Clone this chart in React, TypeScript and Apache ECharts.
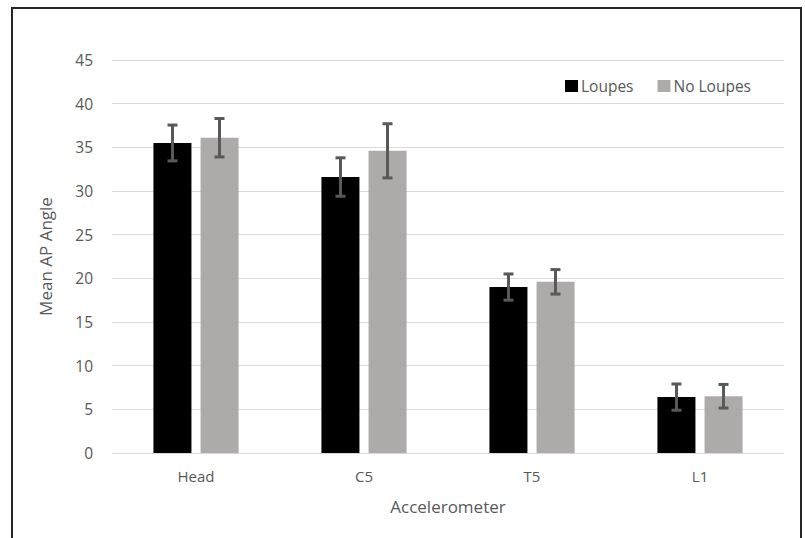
import React, { useEffect, useRef } from "react";
import * as echarts from "echarts";

const categories = ["Head", "C5", "T5", "L1"];
const loupesValues = [35.5, 31.6, 19.0, 6.4];
const loupesErrors = [2.05, 2.2, 1.5, 1.5];
const noLoupesValues = [36.1, 34.6, 19.6, 6.5];
const noLoupesErrors = [2.2, 3.1, 1.4, 1.35];
const seriesNames = ["Loupes", "No Loupes"];

const FONT = "'Open Sans', 'Noto Sans', sans-serif";
const BAR_W = 38;
const OFFSET = 23.5;

function errorSeries(values: number[], errs: number[], offset: number) {
  return {
    type: "custom",
    silent: true,
    z: 10,
    data: values.map((v, i) => [i, v - errs[i], v + errs[i]]),
    renderItem: (params: any, api: any) => {
      const idx = api.value(0);
      const lo = api.coord([idx, api.value(1)]);
      const hi = api.coord([idx, api.value(2)]);
      const x = lo[0] + offset;
      const cap = 5;
      const style = { stroke: "#595959", lineWidth: 3 };
      return {
        type: "group",
        children: [
          { type: "line", shape: { x1: x, y1: lo[1], x2: x, y2: hi[1] }, style },
          { type: "line", shape: { x1: x - cap, y1: hi[1], x2: x + cap, y2: hi[1] }, style },
          { type: "line", shape: { x1: x - cap, y1: lo[1], x2: x + cap, y2: lo[1] }, style },
        ],
      };
    },
  };
}

export default function App() {
  const ref = useRef<HTMLDivElement>(null);
  useEffect(() => {
    if (!ref.current) return;
    const chart = echarts.init(ref.current, undefined, { renderer: "svg" });
    chart.setOption({
      animation: false,
      backgroundColor: "#ffffff",
      textStyle: { fontFamily: FONT },
      graphic: [
        {
          type: "rect",
          shape: { x: 12, y: 8, width: 789, height: 580 },
          style: { fill: "none", stroke: "#262626", lineWidth: 2 },
          z: 100,
        },
      ],
      legend: {
        data: seriesNames,
        left: 560,
        top: 73,
        itemWidth: 13,
        itemHeight: 12,
        itemGap: 24,
        icon: "rect",
        textStyle: { fontFamily: FONT, fontSize: 15.5, color: "#595959", padding: [0, 0, 0, -2] },
      },
      grid: { left: 112, right: 21, top: 60, bottom: 85 },
      xAxis: {
        type: "category",
        data: categories,
        name: "Accelerometer",
        nameLocation: "middle",
        nameGap: 45,
        nameTextStyle: { fontFamily: FONT, fontSize: 17, color: "#595959" },
        axisLine: { lineStyle: { color: "#D9D9D9", width: 1 } },
        axisTick: { show: false },
        axisLabel: { fontFamily: FONT, fontSize: 15, color: "#595959", margin: 15 },
      },
      yAxis: {
        type: "value",
        min: 0,
        max: 45,
        interval: 5,
        name: "Mean AP Angle",
        nameLocation: "middle",
        nameGap: 58,
        nameTextStyle: { fontFamily: FONT, fontSize: 17, color: "#595959" },
        axisLine: { show: false },
        axisTick: { show: false },
        splitLine: { lineStyle: { color: "#D9D9D9", width: 1 } },
        axisLabel: { fontFamily: FONT, fontSize: 15.5, color: "#595959", margin: 19 },
      },
      series: [
        {
          name: seriesNames[0],
          type: "bar",
          data: loupesValues,
          barWidth: BAR_W,
          barGap: "24%",
          itemStyle: { color: "#000000" },
        },
        {
          name: seriesNames[1],
          type: "bar",
          data: noLoupesValues,
          barWidth: BAR_W,
          barGap: "24%",
          itemStyle: { color: "#AEAAAA" },
        },
        errorSeries(loupesValues, loupesErrors, -OFFSET),
        errorSeries(noLoupesValues, noLoupesErrors, OFFSET),
      ],
    });
    return () => chart.dispose();
  }, []);
  return (
    <div style={{ position: "absolute", left: 0, top: 0, width: 805, height: 538, overflow: "hidden" }}>
      <div ref={ref} style={{ width: 805, height: 538 }} />
    </div>
  );
}
